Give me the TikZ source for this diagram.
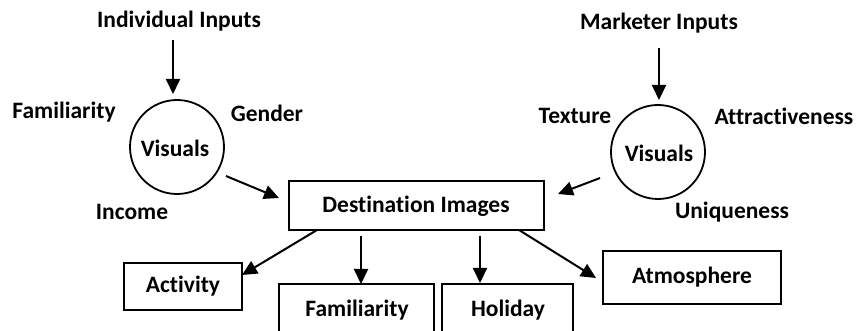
\documentclass[tikz,border=0pt]{standalone}
\usepackage{fontspec}
\setmainfont[Ligatures={NoCommon,NoRare,NoContextual}]{Carlito}
\usetikzlibrary{arrows.meta,calc}
\begin{document}
\begin{tikzpicture}[x=1pt,y=-1pt,
  every node/.style={font=\fontsize{23.5}{27}\selectfont\bfseries, inner sep=0pt},
  box/.style={draw, line width=1.8pt, rectangle},
  circ/.style={draw, line width=1.8pt, circle, minimum size=94pt},
  arr/.style={line width=2pt, -{Triangle[length=15pt,width=14pt]}}]
\useasboundingbox (0,0) rectangle (857,331);
% left part
\node (indin) at (179,21) {Individual Inputs};
\node[circ] (lvis) at (177,147) {};
\node at (175,148) {Visuals};
\node (lfam) at (64,112) {Familiarity};
\node (gender) at (267,113) {Gender};
\node (income) at (132,212) {Income};
% right part
\node (mkin) at (659,23) {Marketer Inputs};
\node[circ] (rvis) at (658,152) {};
\node at (659,153) {Visuals};
\node (texture) at (575,116) {Texture};
\node (attr) at (784,116) {Attractiveness};
\node (uniq) at (732,212) {Uniqueness};
% boxes
\node[box, minimum width=255pt, minimum height=49pt] (dest) at (416.5,205.5) {};
\node at (416,206) {Destination Images};
\node[box, minimum width=118pt, minimum height=47pt] (act) at (183,286.5) {Activity};
\node[box, minimum width=155pt, minimum height=56pt] (fam) at (356.5,312) {};
\node at (357,310) {Familiarity};
\node[box, minimum width=131pt, minimum height=56pt] (hol) at (507.5,312) {};
\node at (508,310) {Holiday};
\node[box, minimum width=178pt, minimum height=53pt] (atm) at (692,277.5) {Atmosphere};
% arrow end points
\coordinate (a1s) at (173,40);   \coordinate (a1e) at (173,94);
\coordinate (a2s) at (226,176);  \coordinate (a2e) at (279,198);
\coordinate (a3s) at (317,230);  \coordinate (a3e) at (242,275);
\coordinate (a4s) at (361,236);  \coordinate (a4e) at (361,284);
\coordinate (a5s) at (480,236);  \coordinate (a5e) at (480,283);
\coordinate (a6s) at (519,230);  \coordinate (a6e) at (596,278);
\coordinate (a7s) at (659,48);   \coordinate (a7e) at (659,100);
\coordinate (a8s) at (600,178);  \coordinate (a8e) at (558,194);
\draw[arr] (a1s) -- (a1e);
\draw[arr] (a2s) -- (a2e);
\draw[arr] (a3s) -- (a3e);
\draw[arr] (a4s) -- (a4e);
\draw[arr] (a5s) -- (a5e);
\draw[arr] (a6s) -- (a6e);
\draw[arr] (a7s) -- (a7e);
\draw[arr] (a8s) -- (a8e);
\end{tikzpicture}
\end{document}
